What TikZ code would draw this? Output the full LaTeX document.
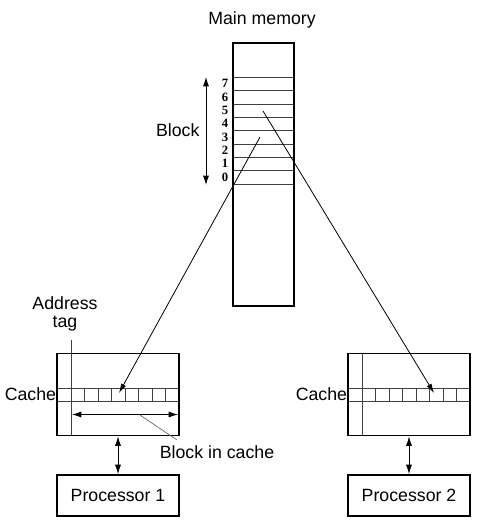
\documentclass[tikz,border=0pt]{standalone}
\usepackage{fontspec}
\setmainfont{Liberation Sans}
\newfontfamily\digitfont{Liberation Serif}
\usetikzlibrary{arrows.meta}

\tikzset{
    box/.style={draw, line width=1.4pt, inner sep=0pt},
    cell/.style={draw=black!75, line width=0.6pt},
    link/.style={-{Latex[length=7pt,width=4pt]}, line width=0.6pt},
    both/.style={{Latex[length=7pt,width=4.5pt]}-{Latex[length=7pt,width=4.5pt]}, line width=0.6pt},
    lbl/.style={font=\fontsize{13.3}{13.5}\selectfont},
    digit/.style={font=\digitfont\bfseries\fontsize{9.5}{9.5}\selectfont, inner sep=0pt},
}

\begin{document}
\begin{tikzpicture}[x=0.75pt, y=-0.75pt]
    \useasboundingbox (0,0) rectangle (482,531);

    % main memory
    \node[lbl] (memtitle) at (262,20) {Main memory};
    \foreach \i in {0,...,8}
        \draw[cell] (233,{184-13.33*\i}) -- (294,{184-13.33*\i});
    \draw[box] (233,43) rectangle (294,306);
    \foreach \n in {0,...,7}
        \node[digit] (d\n) at (225,{177-13.33*\n}) {\n};

    \coordinate (blocktop) at (206,77);
    \coordinate (blockbot) at (206,185);
    \draw[both] (blocktop) -- (blockbot);
    \node[lbl, anchor=east, inner sep=1pt] (block) at (201,130) {Block};

    % two caches and their processors
    \foreach \cx/\nm/\idx in {57/A/1, 348/B/2} {
        \draw[cell] (\cx,388) -- ({\cx+122},388);
        \draw[cell] (\cx,401.5) -- ({\cx+122},401.5);
        \foreach \k in {1,...,7}
            \draw[cell] ({\cx+14+13.5*\k},388) -- ({\cx+14+13.5*\k},401.5);
        \draw[cell] ({\cx+14},353.5) -- ({\cx+14},435.5);
        \node[box, minimum width=91.5pt, minimum height=61.5pt] (cache\nm) at ({\cx+61},394.5) {};
        \node[lbl, anchor=east, inner sep=0.5pt] (cachelbl\nm) at (\cx,394.5) {Cache};
        \node[box, lbl, minimum width=91.5pt, minimum height=30.75pt] (proc\nm) at ({\cx+61},495.5) {Processor \idx};
        \draw[both] (cache\nm.south) -- (proc\nm.north);
    }

    % address tag and block in cache
    \node[lbl, align=center] (addrtag) at (65,314) {Address\\tag};
    \draw[cell] (71,340) -- (71,353.5);
    \draw[both] (72,414.5) -- (178,414.5);
    \node[lbl] (incache) at (217,452) {Block in cache};
    \coordinate (leadstart) at (140,415);
    \coordinate (leadend) at (177,440);
    \draw[black!60, line width=0.5pt] (leadstart) -- (leadend);

    % blocks copied into the caches
    \coordinate (slot3) at (260,137);
    \coordinate (slot5) at (263,111);
    \coordinate (lineA) at (119,393);
    \coordinate (lineB) at (434,393);
    \draw[link] (slot3) -- (lineA);
    \draw[link] (slot5) -- (lineB);
\end{tikzpicture}
\end{document}
